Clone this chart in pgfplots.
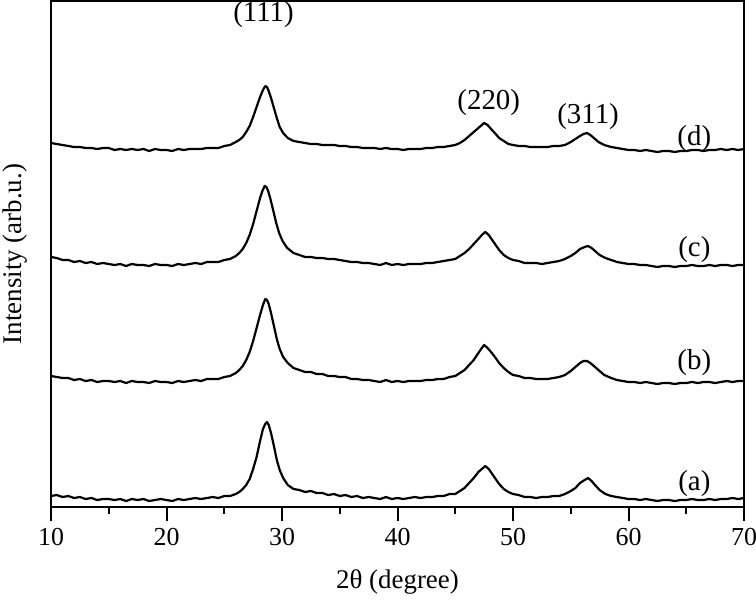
\documentclass[border=0pt]{standalone}
\usepackage{fontspec}
\setmainfont{Liberation Serif}
\usepackage{pgfplots}
\pgfplotsset{compat=1.18}

% curves in pixel units above the bottom axis line (offset traces)
\pgfplotstableread{
x y
10 11
10.5 12
11 10
11.5 11
12 9
12.5 10
13 8
13.5 9
14 7
14.5 8
15 8
15.5 7
16 8
16.5 6
17 8
17.5 7
18 8
18.5 6
19 7
19.5 8
20 7
20.5 6
21 8
21.5 7
22 8
22.5 9
23 8
23.5 9
24 10
24.5 9
25 11
25.5 11
26 13
26.3 15
26.6 18
26.9 22
27.2 28
27.5 38
27.8 50
28.1 66
28.35 78
28.55 83
28.7 85
28.85 82
29.05 74
29.3 61
29.55 47
29.8 37
30.1 29
30.5 22
31 18
31.5 17
32 15
32.5 16
33 14
33.5 14
34 12
34.5 13
35 11
35.5 12
36 10
36.5 11
37 9
37.5 10
38 9
38.5 8
39 10
39.5 8
40 9
40.5 8
41 9
41.5 10
42 9
42.5 10
43 10
43.5 11
44 11
44.5 13
45 13
45.4 16
45.8 19
46.2 24
46.6 29
47 35
47.3 38
47.6 41
47.9 38
48.2 33
48.5 28
48.8 23
49.2 18
49.6 15
50 13
50.5 12
51 10
51.5 10
52 9
52.5 10
53 10
53.5 11
54 11
54.5 13
55 16
55.4 19
55.8 24
56.2 27
56.5 29
56.8 26
57.1 22
57.5 17
58 13
58.5 11
59 10
59.5 9
60 8
60.5 8
61 7
61.5 8
62 7
62.5 6
63 7
63.5 7
64 6
64.5 7
65 7
65.5 8
66 7
66.5 7
67 8
67.5 7
68 8
68.5 8
69 9
69.5 8
70 9
}\curveA

\pgfplotstableread{
x y
10 131
10.5 130
11 129
11.5 129
12 127
12.5 128
13 126
13.5 127
14 125
14.5 126
15 126
15.5 125
16 126
16.5 124
17 126
17.5 125
18 125
18.5 124
19 126
19.5 125
20 125
20.5 124
21 126
21.5 125
22 126
22.5 127
23 126
23.5 128
24 128
24.5 128
25 130
25.5 131
26 134
26.3 137
26.6 141
26.9 147
27.2 155
27.5 166
27.8 179
28.1 192
28.35 202
28.55 208
28.7 207
28.85 203
29.05 194
29.3 181
29.55 168
29.8 158
30.1 150
30.5 144
31 139
31.5 137
32 135
32.5 135
33 133
33.5 133
34 131
34.5 131
35 130
35.5 130
36 128
36.5 128
37 127
37.5 127
38 126
38.5 125
39 127
39.5 125
40 126
40.5 125
41 126
41.5 126
42 126
42.5 127
43 127
43.5 128
44 128
44.5 130
45 131
45.4 134
45.8 137
46.2 142
46.6 147
47 154
47.3 159
47.5 162
47.8 159
48.1 155
48.5 149
48.8 144
49.2 139
49.6 135
50 132
50.5 131
51 129
51.5 129
52 128
52.5 128
53 128
53.5 129
54 130
54.5 132
55 136
55.4 140
55.8 144
56.1 146
56.4 146
56.7 144
57 141
57.4 137
57.9 132
58.5 129
59 127
59.5 126
60 125
60.5 125
61 124
61.5 125
62 124
62.5 123
63 124
63.5 124
64 123
64.5 124
65 124
65.5 125
66 124
66.5 125
67 125
67.5 124
68 125
68.5 126
69 125
69.5 126
70 126
}\curveB

\pgfplotstableread{
x y
10 250
10.5 249
11 247
11.5 247
12 245
12.5 246
13 244
13.5 245
14 243
14.5 244
15 243
15.5 242
16 243
16.5 241
17 243
17.5 242
18 242
18.5 241
19 243
19.5 242
20 242
20.5 241
21 243
21.5 242
22 243
22.5 244
23 243
23.5 245
24 245
24.5 245
25 247
25.5 248
26 251
26.3 254
26.6 258
26.9 264
27.2 272
27.5 283
27.8 296
28.1 309
28.3 316
28.5 321
28.65 320
28.8 316
29.0 308
29.25 296
29.5 284
29.75 274
30.05 266
30.45 259
31 254
31.5 252
32 250
32.5 250
33 249
33.5 249
34 248
34.5 248
35 247
35.5 246
36 245
36.5 245
37 244
37.5 244
38 243
38.5 242
39 244
39.5 242
40 243
40.5 242
41 243
41.5 243
42 243
42.5 244
43 244
43.5 245
44 246
44.5 247
45 248
45.4 251
45.8 254
46.2 258
46.6 263
47 268
47.3 272
47.6 275
47.9 272
48.2 267
48.5 262
48.8 257
49.2 252
49.6 249
50 247
50.5 246
51 244
51.5 244
52 244
52.5 243
53 244
53.5 245
54 246
54.5 248
55 251
55.4 254
55.8 258
56.2 260
56.5 261
56.8 259
57.1 256
57.5 252
58 249
58.5 247
59 245
59.5 244
60 243
60.5 243
61 242
61.5 242
62 241
62.5 240
63 241
63.5 241
64 240
64.5 241
65 241
65.5 242
66 241
66.5 241
67 242
67.5 241
68 242
68.5 242
69 241
69.5 242
70 242
}\curveC

\pgfplotstableread{
x y
10 364
10.5 363
11 362
11.5 361
12 360
12.5 360
13 359
13.5 359
14 358
14.5 359
15 359
15.5 357
16 358
16.5 357
17 358
17.5 357
18 358
18.5 356
19 358
19.5 357
20 357
20.5 356
21 358
21.5 357
22 358
22.5 358
23 358
23.5 359
24 359
24.5 359
25 361
25.5 362
26 365
26.3 367
26.6 370
26.9 375
27.2 381
27.5 390
27.8 400
28.1 410
28.35 417
28.55 421
28.7 420
28.85 416
29.05 409
29.3 399
29.55 389
29.8 380
30.1 374
30.5 369
31 366
31.5 365
32 364
32.5 363
33 363
33.5 362
34 362
34.5 362
35 361
35.5 361
36 360
36.5 360
37 359
37.5 359
38 359
38.5 358
39 359
39.5 358
40 358
40.5 357
41 358
41.5 358
42 358
42.5 359
43 359
43.5 360
44 360
44.5 361
45 362
45.4 364
45.8 367
46.2 371
46.6 375
47 379
47.3 382
47.5 384
47.8 382
48.1 378
48.5 373
48.8 369
49.2 366
49.6 363
50 362
50.5 361
51 361
51.5 360
52 360
52.5 360
53 360
53.5 361
54 361
54.5 362
55 365
55.4 368
55.8 371
56.1 373
56.4 374
56.7 372
57 369
57.4 365
57.9 362
58.5 360
59 359
59.5 358
60 357
60.5 357
61 356
61.5 357
62 356
62.5 355
63 356
63.5 356
64 355
64.5 356
65 356
65.5 357
66 357
66.5 356
67 357
67.5 357
68 358
68.5 357
69 358
69.5 357
70 358
}\curveD

\begin{document}
\begin{tikzpicture}
\begin{axis}[
  name=ax,
  scale only axis,
  width=346.5bp,
  height=253bp,
  xmin=10, xmax=70,
  ymin=0, ymax=506,
  xtick={10,20,...,70},
  minor x tick num=1,
  ytick=\empty,
  xtick pos=bottom,
  tick align=outside,
  major tick length=7bp,
  minor tick length=3.5bp,
  axis line style={line width=1bp},
  tick style={black, line width=1bp},
  tick label style={font=\fontsize{13}{15}\selectfont},
  /pgf/number format/assume math mode=true,
  label style={font=\fontsize{13.5}{16}\selectfont},
  xlabel={2θ (degree)},
  ylabel={Intensity (arb.u.)},
  xlabel style={at={(axis description cs:0.5,-0.148)}, anchor=center},
  ylabel style={at={(axis description cs:-0.052,0.5)}, anchor=center},
  clip=false,
]
\addplot[black, mark=none, line width=1.1bp, line join=round] table {\curveA};
\addplot[black, mark=none, line width=1.1bp, line join=round] table {\curveB};
\addplot[black, mark=none, line width=1.1bp, line join=round] table {\curveC};
\addplot[black, mark=none, line width=1.1bp, line join=round] table {\curveD};

\draw[line width=1bp] (rel axis cs:0,0) rectangle (rel axis cs:1,1);

\begin{scope}[font=\fontsize{14.5}{17}\selectfont]
\node at (axis cs:28.4,492) {(111)};
\node at (axis cs:47.9,404) {(220)};
\node at (axis cs:56.5,390) {(311)};
\node at (axis cs:65.7,368) {(d)};
\node at (axis cs:65.7,257) {(c)};
\node at (axis cs:65.7,144) {(b)};
\node at (axis cs:65.7,23) {(a)};
\end{scope}
\end{axis}
\pgfresetboundingbox
\path ([shift={(-25.5bp,-49bp)}]ax.south west) rectangle ([shift={(6bp,0.5bp)}]ax.north east);
\end{tikzpicture}
\end{document}
